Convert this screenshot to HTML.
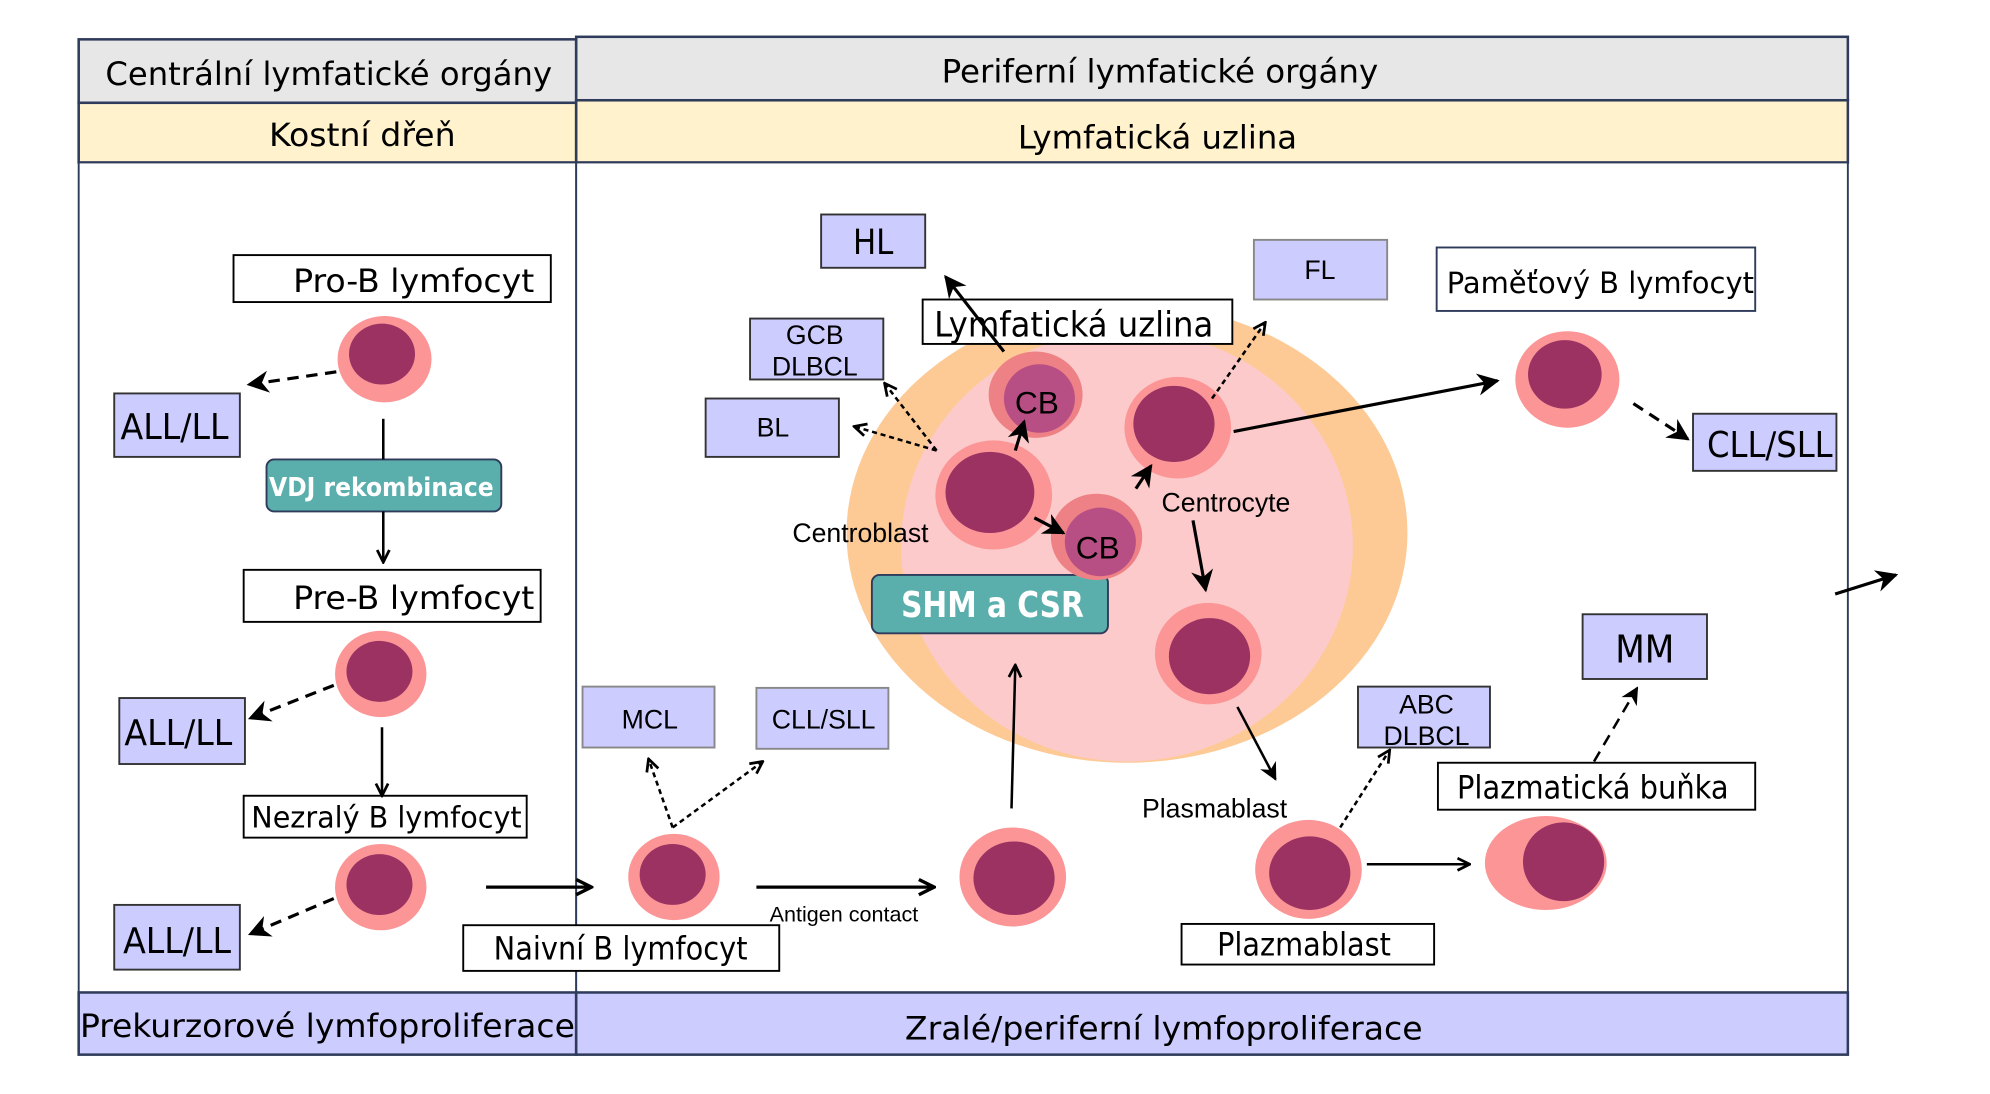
<!DOCTYPE html>
<html><head><meta charset="utf-8"><style>
html,body{margin:0;padding:0;background:#fff;width:1990px;height:1094px;overflow:hidden}
text{font-family:"Liberation Sans",sans-serif;fill:#000}
.t{font-family:"DejaVu Sans Condensed","DejaVu Sans","Liberation Sans",sans-serif}
</style></head><body>
<svg width="1990" height="1094" viewBox="0 0 1568 862" preserveAspectRatio="none" xmlns="http://www.w3.org/2000/svg">
<defs>
<marker id="a" viewBox="0 0 10 10" refX="9" refY="5" markerWidth="7" markerHeight="7" orient="auto"><path d="M0,0L10,5L0,10L3,5z" fill="#000"/></marker>
<marker id="o" viewBox="0 0 10 10" refX="9" refY="5" markerWidth="6" markerHeight="6" orient="auto"><path d="M1,1L9,5L1,9" fill="none" stroke="#000" stroke-width="1.8"/></marker>
</defs>
<rect x="62" y="31" width="392" height="50" fill="#e7e7e7" stroke="#2f3b5a" stroke-width="2"/>
<rect x="454" y="29" width="1002" height="50" fill="#e7e7e7" stroke="#2f3b5a" stroke-width="2"/>
<rect x="62" y="81" width="392" height="47" fill="#fff2cc" stroke="#2f3b5a" stroke-width="2"/>
<rect x="454" y="79" width="1002" height="49" fill="#fff2cc" stroke="#2f3b5a" stroke-width="2"/>
<rect x="62" y="128" width="392" height="654" fill="#fff" stroke="#2f3b5a" stroke-width="1.5"/>
<rect x="454" y="128" width="1002" height="654" fill="#fff" stroke="#2f3b5a" stroke-width="1.5"/>
<rect x="62" y="782" width="392" height="49" fill="#ccccff" stroke="#2f3b5a" stroke-width="2"/>
<rect x="454" y="782" width="1002" height="49" fill="#ccccff" stroke="#2f3b5a" stroke-width="2"/>
<g class="t" font-size="25">
<text x="83" y="67" textLength="352" lengthAdjust="spacingAndGlyphs" class="t">Centrální lymfatické orgány</text>
<text x="742" y="65" textLength="344" lengthAdjust="spacingAndGlyphs" class="t">Periferní lymfatické orgány</text>
<text x="212" y="115" textLength="147" lengthAdjust="spacingAndGlyphs" class="t">Kostní dřeň</text>
<text x="802" y="117" textLength="220" lengthAdjust="spacingAndGlyphs" class="t">Lymfatická uzlina</text>
<text x="63" y="817" textLength="390" lengthAdjust="spacingAndGlyphs" class="t">Prekurzorové lymfoproliferace</text>
<text x="713" y="819" textLength="408" lengthAdjust="spacingAndGlyphs" class="t">Zralé/periferní lymfoproliferace</text>
</g>
<ellipse cx="888" cy="420" rx="221" ry="181" fill="#fdca96"/>
<ellipse cx="888" cy="430" rx="178" ry="170" fill="#fccaca"/>
<g stroke="#000" stroke-width="1.5" fill="#fff">
<rect x="184" y="201" width="250" height="37"/>
<rect x="192" y="449" width="234" height="41"/>
<rect x="192" y="627" width="223" height="33"/>
<rect x="365" y="729" width="249" height="36"/>
<rect x="727" y="236" width="244" height="35"/>
<rect x="1132" y="195" width="251" height="50" stroke="#2f3b5a"/>
<rect x="1133" y="601" width="250" height="37"/>
<rect x="931" y="728" width="199" height="32"/>
</g>
<g stroke="#333" stroke-width="1.5" fill="#ccccff">
<rect x="90" y="310" width="99" height="50"/>
<rect x="94" y="550" width="99" height="52"/>
<rect x="90" y="713" width="99" height="51"/>
<rect x="647" y="169" width="82" height="42"/>
<rect x="988" y="189" width="105" height="47" stroke="#888"/>
<rect x="591" y="251" width="105" height="48"/>
<rect x="556" y="314" width="105" height="46"/>
<rect x="1334" y="326" width="113" height="45"/>
<rect x="459" y="541" width="104" height="48" stroke="#888"/>
<rect x="596" y="542" width="104" height="48" stroke="#888"/>
<rect x="1070" y="541" width="104" height="48"/>
<rect x="1247" y="484" width="98" height="51"/>
</g>
<rect x="210" y="362" width="185" height="41" rx="6" fill="#5aafad" stroke="#2f3b5a" stroke-width="1.5"/>
<rect x="687" y="453" width="186" height="46" rx="6" fill="#5aafad" stroke="#2f3b5a" stroke-width="1.5"/>
<g>
<ellipse cx="303" cy="283" rx="37" ry="34" fill="#fb9596"/><ellipse cx="301" cy="279" rx="26" ry="24" fill="#9b3262"/>
<ellipse cx="300" cy="531" rx="36" ry="34" fill="#fb9596"/><ellipse cx="299" cy="529" rx="26" ry="24" fill="#9b3262"/>
<ellipse cx="300" cy="699" rx="36" ry="34" fill="#fb9596"/><ellipse cx="299" cy="697" rx="26" ry="24" fill="#9b3262"/>
<ellipse cx="531" cy="691" rx="36" ry="34" fill="#fb9596"/><ellipse cx="530" cy="689" rx="26" ry="24" fill="#9b3262"/>
<ellipse cx="798" cy="691" rx="42" ry="39" fill="#fb9596"/><ellipse cx="799" cy="692" rx="32" ry="29" fill="#9b3262"/>
<ellipse cx="1031" cy="685" rx="42" ry="39" fill="#fb9596"/><ellipse cx="1032" cy="688" rx="32" ry="29" fill="#9b3262"/>
<ellipse cx="1218" cy="680" rx="48" ry="37" fill="#fb9596"/><ellipse cx="1232" cy="679" rx="32" ry="31" fill="#9b3262"/>
<ellipse cx="1235" cy="299" rx="41" ry="38" fill="#fb9596"/><ellipse cx="1233" cy="295" rx="29" ry="27" fill="#9b3262"/>
<ellipse cx="952" cy="515" rx="42" ry="40" fill="#fb9596"/><ellipse cx="953" cy="517" rx="32" ry="30" fill="#9b3262"/>
<ellipse cx="928" cy="337" rx="42" ry="40" fill="#fb9596"/><ellipse cx="925" cy="334" rx="32" ry="30" fill="#9b3262"/>
<ellipse cx="783" cy="390" rx="46" ry="43" fill="#fb9596"/><ellipse cx="780" cy="388" rx="35" ry="32" fill="#9b3262"/>
<ellipse cx="816" cy="311" rx="37" ry="34" fill="#ee8185"/><ellipse cx="819" cy="314" rx="28" ry="27" fill="#b84f84"/>
<ellipse cx="864" cy="423" rx="36" ry="34" fill="#ee8185"/><ellipse cx="867" cy="427" rx="28" ry="27" fill="#b84f84"/>
</g>
<g stroke="#000" stroke-width="2.5" fill="none">
<line x1="265" y1="293" x2="196" y2="303" stroke-dasharray="9,6" marker-end="url(#a)"/>
<line x1="263" y1="540" x2="197" y2="566" stroke-dasharray="9,6" marker-end="url(#a)"/>
<line x1="263" y1="708" x2="197" y2="736" stroke-dasharray="9,6" marker-end="url(#a)"/>
<line x1="1287" y1="318" x2="1330" y2="346" stroke-dasharray="9,6" marker-end="url(#a)"/>
<line x1="1256" y1="600" x2="1290" y2="542" stroke-dasharray="9,6" stroke-width="2" marker-end="url(#a)"/>
<line x1="972" y1="340" x2="1180" y2="300" marker-end="url(#a)"/>
<line x1="940" y1="410" x2="950" y2="465" marker-end="url(#a)"/>
<line x1="975" y1="557" x2="1005" y2="614" stroke-width="2" marker-end="url(#a)"/>
<line x1="797" y1="637" x2="800" y2="524" stroke-width="2" marker-end="url(#o)"/>
<line x1="1446" y1="468" x2="1494" y2="453" marker-end="url(#a)"/>
<line x1="800" y1="355" x2="807" y2="332" marker-end="url(#a)"/>
<line x1="815" y1="408" x2="838" y2="420" marker-end="url(#a)"/>
<line x1="895" y1="385" x2="907" y2="367" marker-end="url(#a)"/>
<line x1="791" y1="277" x2="745" y2="218" marker-end="url(#a)"/>
</g>
<g stroke="#000" stroke-width="2" fill="none">
<line x1="302" y1="330" x2="302" y2="362"/>
<line x1="302" y1="403" x2="302" y2="443" marker-end="url(#o)"/>
<line x1="301" y1="573" x2="301" y2="627" marker-end="url(#o)"/>
<line x1="383" y1="699" x2="466" y2="699" stroke-width="2.5" marker-end="url(#o)"/>
<line x1="596" y1="699" x2="736" y2="699" stroke-width="2.5" marker-end="url(#o)"/>
<line x1="1077" y1="681" x2="1158" y2="681" marker-end="url(#o)"/>
<g stroke-dasharray="4,3">
<line x1="955" y1="314" x2="997" y2="254" marker-end="url(#o)"/>
<line x1="738" y1="355" x2="697" y2="302" marker-end="url(#o)"/>
<line x1="738" y1="355" x2="673" y2="336" marker-end="url(#o)"/>
<line x1="530" y1="652" x2="511" y2="598" marker-end="url(#o)"/>
<line x1="530" y1="652" x2="601" y2="600" marker-end="url(#o)"/>
<line x1="1056" y1="652" x2="1095" y2="591" marker-end="url(#o)"/>
</g>
</g>
<g class="t" font-size="25">
<text x="231" y="230" textLength="190" lengthAdjust="spacingAndGlyphs" class="t">Pro-B lymfocyt</text>
<text x="231" y="480" textLength="190" lengthAdjust="spacingAndGlyphs" class="t">Pre-B lymfocyt</text>
<text x="198" y="652" textLength="213" lengthAdjust="spacingAndGlyphs" class="t" font-size="23">Nezralý B lymfocyt</text>
<text x="389" y="756" textLength="200" lengthAdjust="spacingAndGlyphs" class="t">Naivní B lymfocyt</text>
<text x="736" y="265" textLength="220" lengthAdjust="spacingAndGlyphs" class="t" font-size="27">Lymfatická uzlina</text>
<text x="1140" y="231" textLength="242" lengthAdjust="spacingAndGlyphs" class="t" font-size="23">Paměťový B lymfocyt</text>
<text x="1148" y="629" textLength="214" lengthAdjust="spacingAndGlyphs" class="t">Plazmatická buňka</text>
<text x="959" y="753" textLength="137" lengthAdjust="spacingAndGlyphs" class="t">Plazmablast</text>
<text x="95" y="346" textLength="85" lengthAdjust="spacingAndGlyphs" class="t" font-size="28">ALL/LL</text>
<text x="98" y="587" textLength="85" lengthAdjust="spacingAndGlyphs" class="t" font-size="28">ALL/LL</text>
<text x="97" y="751" textLength="85" lengthAdjust="spacingAndGlyphs" class="t" font-size="28">ALL/LL</text>
<text x="1345" y="360" textLength="99" lengthAdjust="spacingAndGlyphs" class="t" font-size="28">CLL/SLL</text>
<text x="688" y="200" text-anchor="middle" class="t" font-size="27">HL</text>
<text x="1296" y="522" text-anchor="middle" class="t" font-size="30">MM</text>
</g>
<g font-size="21">
<text x="1040" y="220" text-anchor="middle">FL</text>
<text x="642" y="271" text-anchor="middle">GCB</text>
<text x="642" y="296" text-anchor="middle">DLBCL</text>
<text x="609" y="344" text-anchor="middle">BL</text>
<text x="512" y="574" text-anchor="middle">MCL</text>
<text x="649" y="574" text-anchor="middle">CLL/SLL</text>
<text x="1124" y="562" text-anchor="middle">ABC</text>
<text x="1124" y="587" text-anchor="middle">DLBCL</text>
<text x="678" y="427" text-anchor="middle">Centroblast</text>
<text x="966" y="403" text-anchor="middle">Centrocyte</text>
<text x="957" y="644" text-anchor="middle">Plasmablast</text>
<text x="665" y="726" text-anchor="middle" font-size="17">Antigen contact</text>
<text x="817" y="326" text-anchor="middle" font-size="25">CB</text>
<text x="865" y="440" text-anchor="middle" font-size="25">CB</text>
</g>
<text x="212" y="391" textLength="177" lengthAdjust="spacingAndGlyphs" font-size="20" font-weight="bold" style="fill:#fff" class="t">VDJ rekombinace</text>
<text x="710" y="486" textLength="144" lengthAdjust="spacingAndGlyphs" font-size="28" font-weight="bold" style="fill:#fff" class="t">SHM a CSR</text>
</svg>
</body></html>
